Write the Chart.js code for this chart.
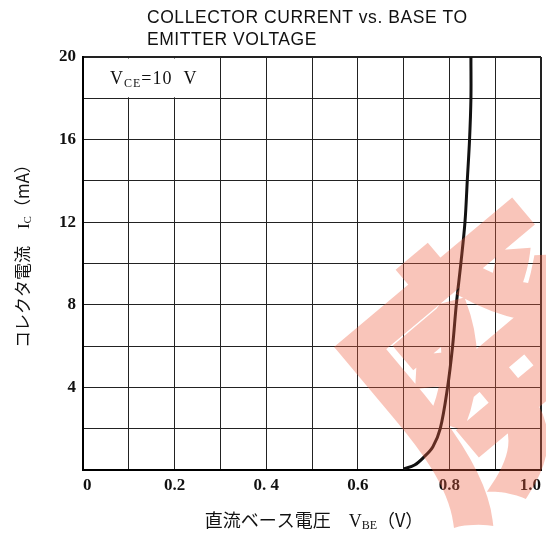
<!DOCTYPE html>
<html>
<head>
<meta charset="utf-8">
<script src="https://cdn.jsdelivr.net/npm/chart.js@4.4.0/dist/chart.umd.min.js"></script>
<style>
  html, body { margin: 0; padding: 0; background: #fff; }
  #wrap { width: 546px; height: 537px; }
</style>
</head>
<body>
<div id="wrap"><canvas id="ic-chart" width="546" height="537"></canvas></div>
<script>
// ----------------------------------------
// IC vs VBE
// ----------------------------------------
const vbe = [0.700, 0.724, 0.745, 0.764, 0.780, 0.796, 0.807, 0.815, 0.825, 0.834, 0.839, 0.844, 0.847, 0.847];
const ic = [0.05, 0.24, 0.64, 1.13, 2.0, 4.0, 6.0, 8.0, 10.0, 12.0, 14.0, 16.0, 18.0, 20.0];

const xTickLabels = ['0', '', '0.2', '', '0. 4', '', '0.6', '', '0.8', '', '1.0'];
const yTickLabels = ['', '', '4', '', '8', '', '12', '', '16', '', '20'];

const titleLines = ['COLLECTOR CURRENT vs. BASE TO', 'EMITTER VOLTAGE'];

const SERIF = '"Liberation Serif", "DejaVu Serif", serif';
const JP = '"Noto Sans CJK JP", sans-serif';

// text with subscripts, parts = [[text, font, dy], ...]
function drawParts(ctx, parts, x, y, align) {
    let total = 0;
    parts.forEach(p => { ctx.font = p[1]; total += ctx.measureText(p[0]).width; });
    let cx = align === 'center' ? x - total / 2 : x;
    ctx.textAlign = 'left';
    ctx.textBaseline = 'alphabetic';
    parts.forEach(p => {
        ctx.font = p[1];
        ctx.fillText(p[0], cx, y + (p[2] || 0));
        cx += ctx.measureText(p[0]).width;
    });
}

// the "廃" stamp, drawn solid off-screen then laid over with alpha
function drawStamp(ctx) {
    const off = document.createElement('canvas');
    off.width = 546;
    off.height = 537;
    const w = off.getContext('2d');
    w.translate(488, 360);
    w.rotate(-40 * Math.PI / 180);
    w.font = `bold 264px ${JP}`;
    w.textAlign = 'center';
    w.textBaseline = 'middle';
    w.fillStyle = w.strokeStyle = 'rgb(238,95,65)';
    w.lineWidth = 9;
    w.lineJoin = 'miter';
    w.fillText('廃', 0, 0);
    w.strokeText('廃', 0, 0);
    ctx.save();
    ctx.globalAlpha = 0.36;
    ctx.drawImage(off, 0, 0, 546, 537);
    ctx.restore();
}

const decor = {
    id: 'decor',
    beforeDatasetsDraw(chart) {
        const { ctx, scales: { x, y } } = chart;
        const l = x.getPixelForValue(0), r = x.getPixelForValue(0.3);
        const t = y.getPixelForValue(20), b = y.getPixelForValue(18);
        ctx.save();
        ctx.fillStyle = '#fff';
        ctx.fillRect(l + 1.5, t + 1.5, r - l - 2.5, b - t - 2.5);
        ctx.fillStyle = '#111';
        ctx.letterSpacing = '1px';
        drawParts(ctx, [
            ['V', `18px ${SERIF}`],
            ['CE', `12px ${SERIF}`, 3],
            ['=10  V', `18px ${SERIF}`]
        ], l + 27, 84, 'left');
        ctx.restore();
    },
    afterDraw(chart) {
        const { ctx } = chart;
        ctx.save();
        ctx.fillStyle = '#111';

        // title
        ctx.font = `17.5px "Liberation Sans", Arial, sans-serif`;
        ctx.letterSpacing = '0.55px';
        ctx.textAlign = 'left';
        ctx.textBaseline = 'alphabetic';
        ctx.fillText(titleLines[0], 147, 23);
        ctx.fillText(titleLines[1], 147, 45);
        ctx.letterSpacing = '0px';

        // x axis title
        drawParts(ctx, [
            ['直流ベース電圧　', `18px ${JP}`],
            ['V', `18px ${SERIF}`],
            ['BE', `12px ${SERIF}`, 2],
            ['（V）', `18px ${JP}`]
        ], 314, 527, 'center');

        // y axis title
        ctx.save();
        ctx.translate(29, 252);
        ctx.rotate(-Math.PI / 2);
        drawParts(ctx, [
            ['コレクタ電流　', `17px ${JP}`],
            ['I', `17px ${SERIF}`],
            ['C', `11px ${SERIF}`, 2],
            ['（mA）', `17px ${JP}`]
        ], 0, 0, 'center');
        ctx.restore();
        ctx.restore();

        drawStamp(ctx);
    }
};

new Chart(document.getElementById('ic-chart'), {
    type: 'line',
    data: {
        datasets: [{
            data: vbe.map((v, i) => ({ x: v, y: ic[i] })),
            borderColor: '#111',
            borderWidth: 3,
            pointRadius: 0,
            tension: 0.35,
            fill: false
        }]
    },
    options: {
        responsive: false,
        animation: false,
        layout: { padding: { top: 57, left: 0, right: 5, bottom: 0 } },
        plugins: { legend: { display: false }, tooltip: { enabled: false } },
        scales: {
            x: {
                type: 'linear',
                min: 0,
                max: 1,
                afterFit: (s) => { s.height = 67; s.paddingLeft = 0; s.paddingRight = 0; },
                border: { color: '#000', width: 2 },
                grid: {
                    drawTicks: false,
                    color: '#222',
                    lineWidth: (c) => (c.tick && c.tick.value >= 0.999 ? 2 : 1)
                },
                ticks: {
                    stepSize: 0.1,
                    autoSkip: false,
                    maxRotation: 0,
                    align: 'inner',
                    padding: 5,
                    color: '#111',
                    font: { family: SERIF, size: 17, weight: 'bold' },
                    callback: (v) => xTickLabels[Math.round(v * 10)]
                }
            },
            y: {
                min: 0,
                max: 20,
                afterFit: (s) => { s.width = 83; s.paddingTop = 0; s.paddingBottom = 0; },
                border: { color: '#000', width: 2 },
                grid: {
                    drawTicks: false,
                    color: '#222',
                    lineWidth: (c) => (c.tick && c.tick.value >= 20 ? 2 : 1)
                },
                ticks: {
                    stepSize: 2,
                    autoSkip: false,
                    padding: 7,
                    color: '#111',
                    font: { family: SERIF, size: 17, weight: 'bold' },
                    callback: (v) => yTickLabels[Math.round(v / 2)]
                }
            }
        }
    },
    plugins: [decor]
});
</script>
</body>
</html>
